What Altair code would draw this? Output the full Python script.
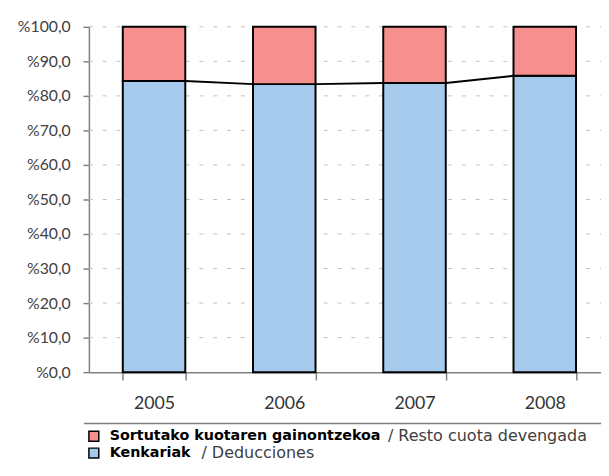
import altair as alt
import pandas as pd

years = ["2005", "2006", "2007", "2008"]
kenkariak = [84.3, 83.4, 83.7, 85.8]          # Kenkariak / Deducciones
resto = [15.7, 16.6, 16.3, 14.2]              # Sortutako kuotaren gainontzekoa / Resto cuota devengada
series_names = ["Kenkariak", "Sortutako"]
series_colors = ["#A6CAEC", "#F5908F"]
y_ticks = [0, 10, 20, 30, 40, 50, 60, 70, 80, 90, 100]

legend_bold = ["Sortutako kuotaren gainontzekoa", "Kenkariak"]
legend_normal = ["/ Resto cuota devengada", "/ Deducciones"]

FONT = "Lato"
LEG_FONT = "DejaVu Sans"

rows = []
for i, y in enumerate(years):
    rows.append({"year": y, "serie": "Kenkariak", "value": kenkariak[i], "ord": 0})
    rows.append({"year": y, "serie": "Sortutako", "value": resto[i], "ord": 1})
df = pd.DataFrame(rows)

conn = pd.DataFrame({
    "year": years[:-1],
    "next_year": years[1:],
    "v": kenkariak[:-1],
    "v_next": kenkariak[1:],
})

grid_df = pd.DataFrame({"t": y_ticks[1:]})

x_scale = alt.Scale(domain=years, range=[0, 528], paddingInner=0.52, paddingOuter=0.26)
y_scale = alt.Scale(domain=[0, 100], nice=False)

x_axis = alt.Axis(title=None, labelAngle=0, labelFontSize=18, labelFont=FONT,
                  labelColor="#333333", tickBand="extent", tickSize=8,
                  labelPadding=15, domainColor="#808080", tickColor="#808080",
                  domainWidth=1.5, tickWidth=1.5, grid=False)
y_axis = alt.Axis(title=None, values=y_ticks, labelOverlap=False,
                  labelExpr="'%' + replace(format(datum.value, '.1f'), '.', ',')",
                  labelFontSize=16, labelFont=FONT, labelColor="#404040",
                  tickSize=6, labelPadding=13, domainColor="#808080",
                  tickColor="#808080", domainWidth=1.5, tickWidth=1.5, grid=False)

grid = alt.Chart(grid_df).mark_rule(color="#c0c0c0", strokeWidth=1, strokeDash=[4, 10]).encode(
    x=alt.value(0), x2=alt.value(530),
    y=alt.Y("t:Q", scale=y_scale, axis=y_axis),
)

bars = alt.Chart(df).mark_bar(stroke="black", strokeWidth=2).encode(
    x=alt.X("year:N", scale=x_scale, sort=years, axis=x_axis),
    y=alt.Y("value:Q", stack="zero", scale=y_scale, axis=y_axis),
    color=alt.Color("serie:N", scale=alt.Scale(domain=series_names, range=series_colors), legend=None),
    order=alt.Order("ord:Q"),
)

lines = alt.Chart(conn).mark_rule(color="black", strokeWidth=2, xOffset=31.7, x2Offset=-31.7).encode(
    x=alt.X("year:N", scale=x_scale, sort=years, axis=x_axis),
    x2="next_year:N",
    y=alt.Y("v:Q", scale=y_scale, axis=y_axis),
    y2="v_next:Q",
)

# legend
leg_df = pd.DataFrame({
    "bold": legend_bold,
    "normal": legend_normal,
    "color": [series_colors[1], series_colors[0]],
    "ry": [415, 432],
    "nx": [303, 114],
})

leg_line = alt.Chart(pd.DataFrame({"a": [0]})).mark_rule(color="#808080", strokeWidth=1.5).encode(
    x=alt.value(-5), x2=alt.value(530), y=alt.value(402)
)
leg_sq = alt.Chart(leg_df).mark_square(size=100, stroke="black", strokeWidth=1.5, opacity=1).encode(
    x=alt.value(5), y=alt.Y("ry:Q", scale=None), fill=alt.Fill("color:N", scale=None)
)
leg_bold = alt.Chart(leg_df).mark_text(align="left", baseline="middle", fontSize=14.5,
                                       fontWeight="bold", font=LEG_FONT, color="black").encode(
    x=alt.value(21), y=alt.Y("ry:Q", scale=None), text="bold:N"
)
leg_norm = alt.Chart(leg_df).mark_text(align="left", baseline="middle", fontSize=16.2,
                                       font=LEG_FONT, color="#404040").encode(
    x=alt.X("nx:Q", scale=None), y=alt.Y("ry:Q", scale=None), text="normal:N"
)

chart = alt.layer(grid, bars, lines, leg_line, leg_sq, leg_bold, leg_norm).properties(
    width=519, height=350,
    autosize=alt.AutoSizeParams(type="none"),
    padding={"left": 82, "top": 16, "right": 0, "bottom": 88},
).configure_view(stroke=None)

chart.save("out.html", embed_options={"renderer": "svg", "actions": False})
